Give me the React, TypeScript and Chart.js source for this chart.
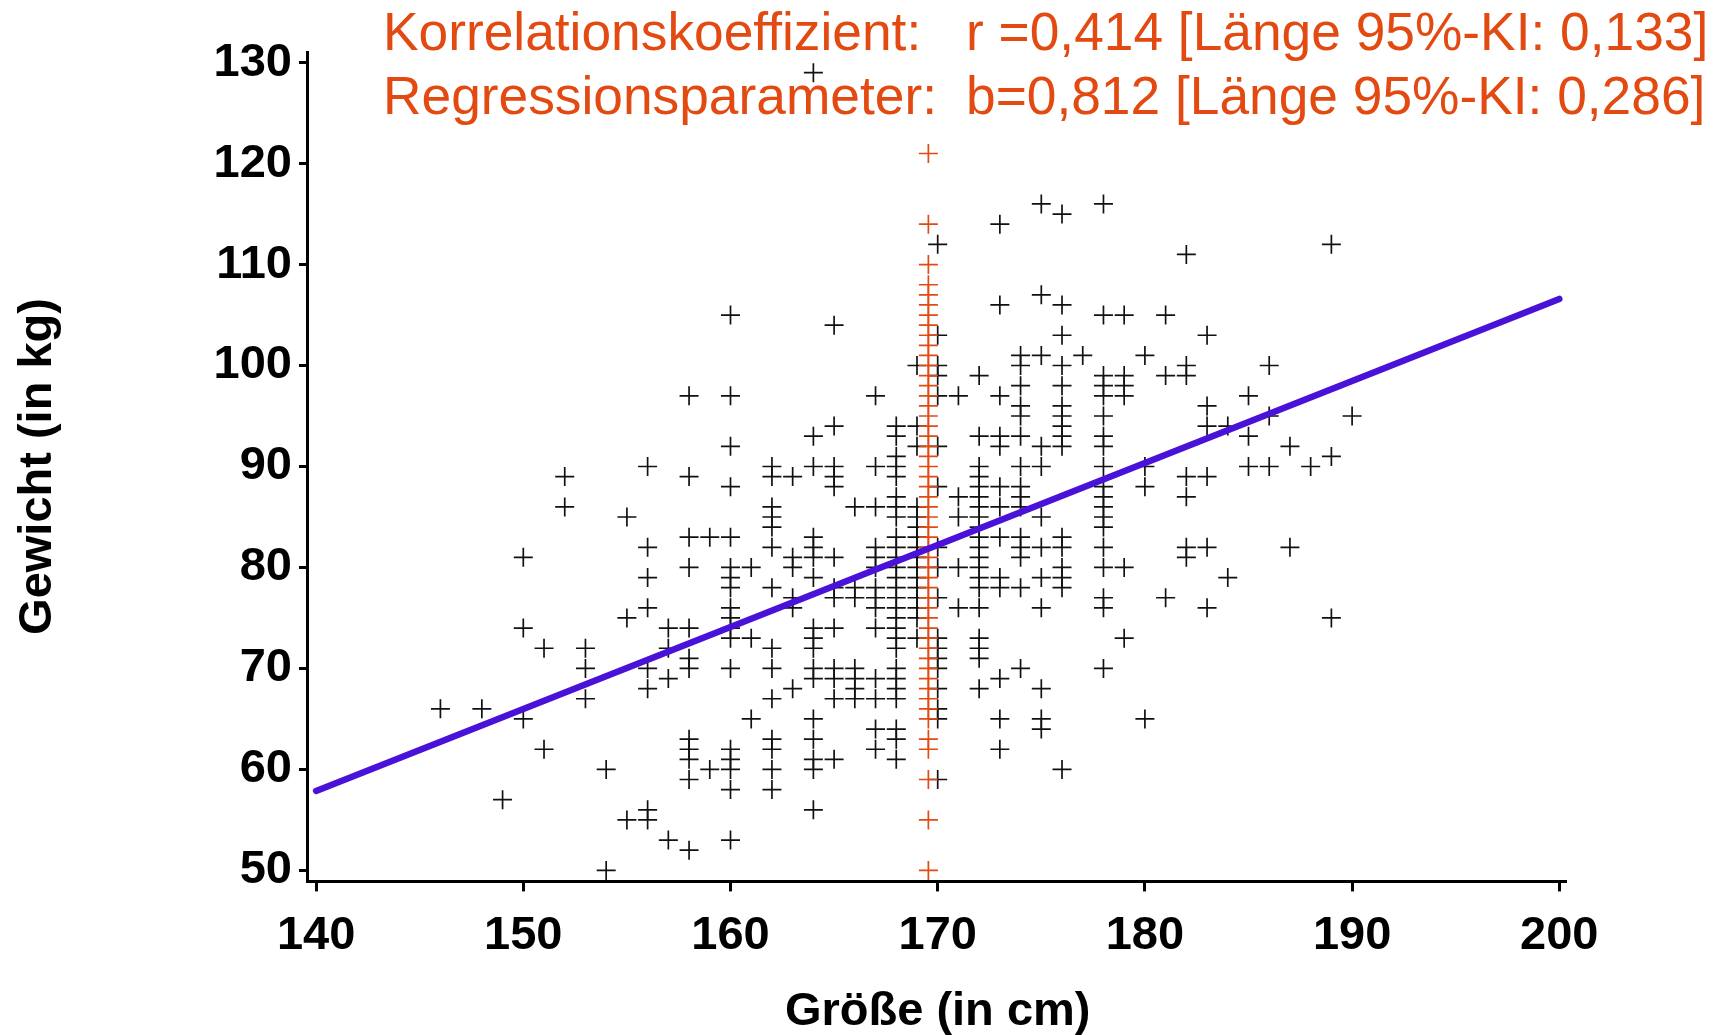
import React, { useEffect, useRef } from 'react';
import { Chart, registerables } from 'chart.js';

Chart.register(...registerables);

// ---- data ----
const heightColumns = [
  146, 148, 149, 150, 151, 152, 153, 154, 155, 156, 157, 158, 159, 160, 161, 162, 163, 164, 165, 166, 167, 168,
  169, 170, 171, 172, 173, 174, 175, 176, 177, 178, 179, 180, 181, 182, 183, 184, 185, 186, 187, 188, 189, 190,
];
const weightColumns = [
  [66],
  [66],
  [57],
  [81, 74, 65],
  [72, 62],
  [89, 86],
  [72, 70, 67],
  [60, 50],
  [85, 75, 55],
  [90, 82, 79, 76, 70, 68, 56, 55],
  [74, 72, 69, 53],
  [97, 89, 83, 80, 74, 71, 70, 63, 62, 61, 59, 52],
  [83, 60],
  [105, 97, 92, 88, 83, 80, 79, 78, 76, 75, 74, 73, 70, 62, 61, 60, 58, 53],
  [80, 73, 65],
  [90, 89, 86, 85, 84, 82, 78, 72, 70, 67, 63, 62, 60, 58],
  [89, 81, 80, 77, 76, 68],
  [129, 93, 90, 83, 82, 81, 79, 74, 73, 72, 70, 69, 65, 63, 61, 60, 56],
  [104, 94, 90, 89, 88, 81, 78, 77, 74, 70, 69, 67, 61],
  [86, 78, 77, 70, 69, 68, 67],
  [97, 90, 86, 82, 81, 80, 78, 77, 76, 74, 69, 67, 64, 62],
  [94, 93, 91, 90, 89, 87, 86, 85, 83, 82, 81, 80, 79, 78, 77, 76, 75, 74, 73, 72, 70, 69, 68, 67, 64, 63, 61],
  [100, 94, 92, 86, 85, 84, 83, 82, 81, 80, 79, 78, 77, 76, 75, 73],
  [112, 103, 100, 99, 97, 92, 88, 82, 80, 77, 73, 72, 71, 70, 68, 66, 65, 59],
  [97, 87, 85, 80, 76],
  [99, 93, 90, 89, 88, 87, 86, 85, 84, 83, 82, 81, 80, 79, 78, 76, 73, 72, 71, 68],
  [114, 106, 97, 93, 92, 88, 86, 83, 79, 78, 69, 65, 62],
  [101, 100, 98, 96, 95, 93, 90, 88, 87, 86, 83, 82, 81, 78, 70],
  [116, 107, 101, 92, 90, 85, 82, 79, 76, 68, 65, 64],
  [115, 106, 103, 100, 98, 96, 95, 94, 93, 92, 83, 82, 80, 79, 78, 60],
  [101],
  [116, 105, 99, 98, 97, 95, 93, 92, 90, 88, 87, 86, 85, 84, 82, 80, 77, 76, 70],
  [105, 99, 98, 97, 80, 73],
  [101, 90, 88, 65],
  [105, 99, 77],
  [111, 100, 99, 89, 87, 82, 81],
  [103, 96, 94, 89, 82, 76],
  [94, 79],
  [97, 93, 90],
  [100, 95, 90],
  [92, 82],
  [90],
  [112, 91, 75],
  [95],
];

const imputedHeight = 169.55;
const imputedWeights = [
  121, 114, 110, 108, 107, 106, 105, 104, 103, 102, 101, 100, 99, 98, 97, 96, 95, 94, 93, 92, 91, 90, 89, 88, 87,
  86, 85, 84, 83, 82, 81, 80, 79, 78, 77, 76, 75, 74, 73, 72, 71, 70, 69, 68, 67, 66, 65, 63, 62, 59, 55, 50,
];

const regressionX = [140, 200];
const regressionY = [57.87, 106.59];

const xTickValues = [140, 150, 160, 170, 180, 190, 200];
const yTickValues = [50, 60, 70, 80, 90, 100, 110, 120, 130];

const statLabels = ['Korrelationskoeffizient:', 'Regressionsparameter:'];
const statValues = ['r =0,414 [Länge 95%-KI: 0,133]', 'b=0,812 [Länge 95%-KI: 0,286]'];

const xTitle = 'Größe (in cm)';
const yTitle = 'Gewicht (in kg)';

// ---- styles ----
const FAMILY = '"Liberation Sans", Arial, Helvetica, sans-serif';
const ORANGE = '#E24A12';
const BLUE = '#4A12D9';
const BLACK = '#111111';

const textPlugin = {
  id: 'textPlugin',
  beforeDatasetsDraw(chart: any) {
    const ctx = chart.ctx as CanvasRenderingContext2D;
    ctx.save();
    ctx.fillStyle = ORANGE;
    ctx.font = `53.3px ${FAMILY}`;
    ctx.textAlign = 'left';
    ctx.textBaseline = 'alphabetic';
    statLabels.forEach((label, i) => {
      const y = 50 + i * 63.5;
      ctx.fillText(label, 383, y);
      ctx.fillText(statValues[i], 966, y);
    });
    ctx.restore();
  },
  afterDraw(chart: any) {
    const ctx = chart.ctx as CanvasRenderingContext2D;
    const xs = chart.scales.x;
    const ys = chart.scales.y;
    ctx.save();
    ctx.fillStyle = '#000';
    ctx.font = `bold 47px ${FAMILY}`;
    ctx.textAlign = 'center';
    ctx.textBaseline = 'alphabetic';
    const xc = (xs.getPixelForValue(xTickValues[0]) + xs.getPixelForValue(xTickValues[xTickValues.length - 1])) / 2;
    ctx.fillText(xTitle, xc, 1025);
    const yc = (ys.getPixelForValue(yTickValues[0]) + ys.getPixelForValue(yTickValues[yTickValues.length - 1])) / 2;
    ctx.translate(51, yc);
    ctx.rotate(-Math.PI / 2);
    ctx.fillText(yTitle, 0, 0);
    ctx.restore();
  },
};

export default function App() {
  const canvasRef = useRef<HTMLCanvasElement | null>(null);

  useEffect(() => {
    if (!canvasRef.current) return;
    const blackPoints = heightColumns.flatMap((h, i) => weightColumns[i].map((w) => ({ x: h, y: w })));
    const orangePoints = imputedWeights.map((w) => ({ x: imputedHeight, y: w }));
    const linePoints = regressionX.map((x, i) => ({ x, y: regressionY[i] }));

    const chart = new Chart(canvasRef.current, {
      type: 'scatter',
      data: {
        datasets: [
          {
            type: 'line',
            data: linePoints,
            borderColor: BLUE,
            borderWidth: 6.5,
            borderCapStyle: 'round',
            pointRadius: 0,
            fill: false,
            tension: 0,
            order: 0,
          } as any,
          {
            type: 'scatter',
            data: orangePoints,
            pointStyle: 'cross',
            pointRadius: 9.5,
            borderColor: ORANGE,
            backgroundColor: ORANGE,
            borderWidth: 1.7,
            order: 1,
          } as any,
          {
            type: 'scatter',
            data: blackPoints,
            pointStyle: 'cross',
            pointRadius: 9.5,
            borderColor: BLACK,
            backgroundColor: BLACK,
            borderWidth: 1.7,
            order: 2,
          } as any,
        ],
      },
      options: {
        responsive: false,
        animation: false,
        devicePixelRatio: 1,
        events: [],
        layout: { padding: { top: 52, right: 156, bottom: 0, left: 0 } },
        plugins: { legend: { display: false }, tooltip: { enabled: false }, title: { display: false } },
        scales: {
          x: {
            type: 'linear',
            min: 139.561,
            max: 200.275,
            afterBuildTicks: (s: any) => {
              s.ticks = xTickValues.map((v) => ({ value: v }));
            },
            afterFit: (s: any) => {
              s.height = 153.6;
            },
            ticks: {
              font: { size: 47, weight: 'bold', family: FAMILY },
              color: '#000',
              padding: 16,
              maxRotation: 0,
              autoSkip: false,
            },
            grid: { display: true, drawOnChartArea: false, drawTicks: true, tickLength: 10, lineWidth: 3, color: '#000' },
            border: { display: true, color: '#000', width: 3 },
          },
          y: {
            type: 'linear',
            min: 48.91,
            max: 131.05,
            afterBuildTicks: (s: any) => {
              s.ticks = yTickValues.map((v) => ({ value: v }));
            },
            afterFit: (s: any) => {
              s.width = 307;
            },
            ticks: {
              font: { size: 47, weight: 'bold', family: FAMILY },
              color: '#000',
              padding: 7,
              autoSkip: false,
            },
            grid: { display: true, drawOnChartArea: false, drawTicks: true, tickLength: 8, lineWidth: 3, color: '#000' },
            border: { display: true, color: '#000', width: 3 },
          },
        },
      } as any,
      plugins: [textPlugin],
    });
    return () => chart.destroy();
  }, []);

  return (
    <div style={{ position: 'fixed', left: 0, top: 0, width: 1721, height: 1035, background: '#fff' }}>
      <canvas ref={canvasRef} width={1721} height={1035} style={{ width: 1721, height: 1035, display: 'block' }} />
    </div>
  );
}
